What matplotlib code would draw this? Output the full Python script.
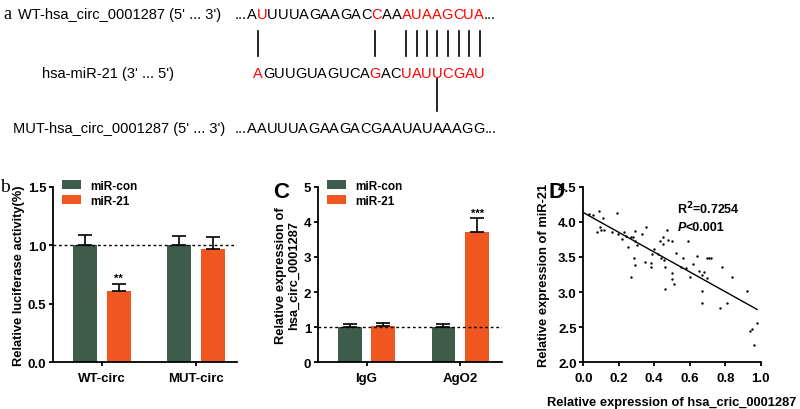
import numpy as np
import matplotlib
matplotlib.use('Agg')
import matplotlib.pyplot as plt
from matplotlib import font_manager
from matplotlib.lines import Line2D

# colours
GREEN = '#3d5c4b'
ORANGE = '#f0561f'

# --- panel a : sequences
wt_label = "WT-hsa_circ_0001287 (5' ... 3')"
mir_label = "hsa-miR-21 (3' ... 5')"
mut_label = "MUT-hsa_circ_0001287 (5' ... 3')"
wt_seq = "AUUUUAGAAGACCAAAUAAGCUA"
wt_red = [1, 12, 15, 16, 17, 18, 19, 20, 21, 22]
mir_seq = "AGUUGUAGUCAGACUAUUCGAU"
mir_red = [0, 11, 14, 15, 16, 17, 18, 19, 20, 21]
mut_seq = "AAUUUAGAAGACGAAUAUAAAGG"
pair_top = [0, 11, 14, 15, 16, 17, 18, 19, 20, 21]   # miR-21 positions paired with WT
pair_bottom = [17]                                   # miR-21 positions paired with MUT

# --- panel b : luciferase
groups_b = ['WT-circ', 'MUT-circ']
con_b = [1.00, 1.00]
con_b_err = [0.09, 0.08]
mir_b = [0.61, 0.97]
mir_b_err = [0.06, 0.10]
sig_b = ['**', '']

# --- panel C : RIP
groups_c = ['IgG', 'AgO2']
con_c = [1.00, 1.00]
con_c_err = [0.08, 0.09]
mir_c = [1.02, 3.70]
mir_c_err = [0.11, 0.40]
sig_c = ['', '***']

# --- panel D : correlation
sx = [0.03, 0.055, 0.09, 0.19, 0.11, 0.08, 0.095, 0.10, 0.115, 0.16, 0.195, 0.23, 0.24,
      0.22, 0.27, 0.28, 0.29, 0.33, 0.355, 0.25, 0.29, 0.30, 0.286, 0.29, 0.27, 0.35,
      0.39, 0.38, 0.38, 0.40, 0.42, 0.43, 0.45, 0.45, 0.47, 0.48, 0.50, 0.44, 0.455,
      0.46, 0.46, 0.50, 0.50, 0.51, 0.52, 0.55, 0.56, 0.58, 0.59, 0.60, 0.62, 0.64,
      0.65, 0.67, 0.68, 0.67, 0.67, 0.70, 0.71, 0.72, 0.70, 0.78, 0.81, 0.84, 0.77,
      0.92, 0.94, 0.95, 0.98, 0.96]
sy = [4.11, 4.09, 4.15, 4.13, 4.05, 3.86, 3.93, 3.89, 3.88, 3.86, 3.83, 3.85, 3.80,
      3.76, 3.78, 3.79, 3.87, 3.83, 3.93, 3.64, 3.72, 3.67, 3.49, 3.39, 3.21, 3.43,
      3.54, 3.41, 3.36, 3.61, 3.54, 3.72, 3.78, 3.68, 3.88, 3.74, 3.73, 3.49, 3.46,
      3.36, 3.05, 3.27, 3.18, 3.11, 3.56, 3.36, 3.49, 3.34, 3.72, 3.22, 3.40, 3.51,
      3.30, 3.24, 3.28, 3.02, 2.84, 3.49, 3.49, 3.48, 3.20, 3.36, 2.85, 3.22, 2.77,
      3.01, 2.44, 2.47, 2.56, 2.24]

plt.rcParams['font.family'] = 'Liberation Sans'
plt.rcParams['font.weight'] = 'bold'
plt.rcParams['axes.labelweight'] = 'bold'
plt.rcParams['axes.linewidth'] = 1.3

names = {f.name for f in font_manager.fontManager.ttflist}
if 'Liberation Sans Narrow' in names:
    seq_font, seq_size = 'Liberation Sans Narrow', 12.7
else:
    seq_font, seq_size = 'Liberation Sans', 10.5

fig = plt.figure(figsize=(8, 4.1), dpi=100)
W, H = 800, 410

ax0 = fig.add_axes([0, 0, 1, 1])
ax0.set_axis_off()


def seq_row(x, y, seq, red, dots=True):
    tokens = [(c, 'red' if i in red else 'black') for i, c in enumerate(seq)]
    if dots:
        tokens = [('...', 'black')] + tokens + [('...', 'black')]
    kw = dict(fontsize=seq_size, family=seq_font, fontweight='normal')
    t = ax0.text(x, y, tokens[0][0], color=tokens[0][1], transform=fig.transFigure,
                 va='baseline', ha='left', **kw)
    out = [t]
    for ch, col in tokens[1:]:
        t = ax0.annotate(ch, xy=(1, 0), xycoords=t, va='bottom', ha='left', color=col, **kw)
        out.append(t)
    return out[1:-1] if dots else out


def label_row(x, y, s):
    ax0.text(x, y, s, transform=fig.transFigure, va='baseline', ha='left',
             fontsize=seq_size, family=seq_font, fontweight='normal')


b1, b2, b3 = 1 - 19.3 / H, 1 - 78 / H, 1 - 133 / H
label_row(18 / W, b1, wt_label)
label_row(42 / W, b2, mir_label)
label_row(13 / W, b3, mut_label)
seq_row(235 / W, b1, wt_seq, wt_red)
mir_txt = seq_row(253 / W, b2, mir_seq, mir_red, dots=False)
seq_row(235 / W, b3, mut_seq, [])

fig.text(3 / W, b1, 'a', family='Liberation Serif', fontsize=13, fontweight='normal')
fig.text(0 / W, 1 - 192 / H, 'b', family='Liberation Serif', fontsize=14, fontweight='normal')
fig.text(273 / W, 1 - 198 / H, 'C', fontsize=16, fontweight='bold')
fig.text(548 / W, 1 - 198 / H, 'D', fontsize=16, fontweight='bold')


def style(ax):
    for s in ['top', 'right']:
        ax.spines[s].set_visible(False)
    ax.tick_params(direction='out', length=3.2, width=1.3, labelsize=9.5, pad=1.5)
    ax.tick_params(axis='x', pad=4)
    for lab in ax.get_xticklabels() + ax.get_yticklabels():
        lab.set_fontweight('bold')


def bar_panel(ax, groups, con, con_err, mir, mir_err, sig):
    x = np.arange(len(groups))
    w, off = 0.255, 0.18
    ax.bar(x - off, con, w, color=GREEN, label='miR-con', zorder=2)
    ax.bar(x + off, mir, w, color=ORANGE, label='miR-21', zorder=2)
    z = np.zeros(len(groups))
    ax.errorbar(x - off, con, yerr=[z, con_err], fmt='none', ecolor='black',
                elinewidth=1.2, capsize=5, capthick=1.2, zorder=3)
    ax.errorbar(x + off, mir, yerr=[z, mir_err], fmt='none', ecolor='black',
                elinewidth=1.2, capsize=5, capthick=1.2, zorder=3)
    for xi, v, e, s in zip(x + off, mir, mir_err, sig):
        if s:
            ax.annotate(s, (xi, v + e), xytext=(0, 0.5), textcoords='offset points',
                        ha='center', va='bottom', fontsize=8, fontweight='bold')
    ax.axhline(1, ls=(0, (2, 2)), color='black', lw=1, zorder=4)
    ax.set_xticks(x, groups)
    ax.set_xlim(-0.52, 1.44)
    ax.legend(loc='upper left', bbox_to_anchor=(0.05, 1.04), frameon=False,
              prop={'size': 8.5, 'weight': 'bold'}, handlelength=1.6, handleheight=0.7,
              handletextpad=0.8, labelspacing=0.25, borderpad=0, borderaxespad=0)
    style(ax)


bottom, height = 46.7 / H, 175.6 / H

axb = fig.add_axes([53 / W, bottom, 184 / W, height])
bar_panel(axb, groups_b, con_b, con_b_err, mir_b, mir_b_err, sig_b)
axb.set_ylim(0, 1.5)
axb.set_yticks([0, 0.5, 1.0, 1.5])
axb.yaxis.set_major_formatter(matplotlib.ticker.FormatStrFormatter('%.1f'))
axb.set_ylabel('Relative luciferase activity(%)', fontsize=9.3)
axb.yaxis.set_label_coords(-0.152, 0.5)

axc = fig.add_axes([317.7 / W, bottom, 184 / W, height])
bar_panel(axc, groups_c, con_c, con_c_err, mir_c, mir_c_err, sig_c)
axc.set_ylim(0, 5)
axc.set_yticks(range(6))
axc.set_ylabel('Relative expression of\nhsa_circ_0001287', fontsize=9.3, linespacing=1.1)
axc.yaxis.set_label_coords(-0.095, 0.5)

axd = fig.add_axes([583.3 / W, bottom, 177.4 / W, height])
axd.scatter(sx, sy, s=3, color='black', linewidths=0, zorder=3)
k, c0 = np.polyfit(sx, sy, 1)
xs = np.array([0.0, max(sx)])
axd.plot(xs, k * xs + c0, color='black', lw=1)
axd.set_xlim(0, 1)
axd.set_ylim(2, 4.5)
axd.set_xticks(np.arange(0, 1.01, 0.2))
axd.set_yticks(np.arange(2, 4.51, 0.5))
axd.xaxis.set_major_formatter(matplotlib.ticker.FormatStrFormatter('%.1f'))
axd.yaxis.set_major_formatter(matplotlib.ticker.FormatStrFormatter('%.1f'))
axd.set_ylabel('Relative expression of miR-21', fontsize=9.3)
axd.yaxis.set_label_coords(-0.188, 0.5)
axd.set_xlabel('Relative expression of hsa_cric_0001287', fontsize=9.3)
axd.xaxis.set_label_coords(0.5, -0.19)
axd.text(0.53, 0.88, r'R$^\mathbf{2}$=0.7254', transform=axd.transAxes, fontsize=9,
         fontweight='bold', ha='left', va='center')
p_txt = axd.text(0.53, 0.77, 'P', transform=axd.transAxes,
                 fontsize=9, fontweight='bold', fontstyle='italic', ha='left', va='center')
axd.annotate('<0.001', xy=(1, 0), xycoords=p_txt, va='bottom', ha='left',
             fontsize=9, fontweight='bold')
style(axd)

# pairing bars between the rows
fig.canvas.draw()
r = fig.canvas.get_renderer()
for idx in pair_top:
    bb = mir_txt[idx].get_window_extent(r)
    xc = (bb.x0 + bb.x1) / 2 / fig.bbox.width
    fig.add_artist(Line2D([xc, xc], [1 - 31.7 / H, 1 - 56.7 / H], color='black', lw=1.2,
                          transform=fig.transFigure))
for idx in pair_bottom:
    bb = mir_txt[idx].get_window_extent(r)
    xc = (bb.x0 + bb.x1) / 2 / fig.bbox.width
    fig.add_artist(Line2D([xc, xc], [1 - 80 / H, 1 - 111.7 / H], color='black', lw=1.2,
                          transform=fig.transFigure))

fig.savefig('out.png', dpi=100)
